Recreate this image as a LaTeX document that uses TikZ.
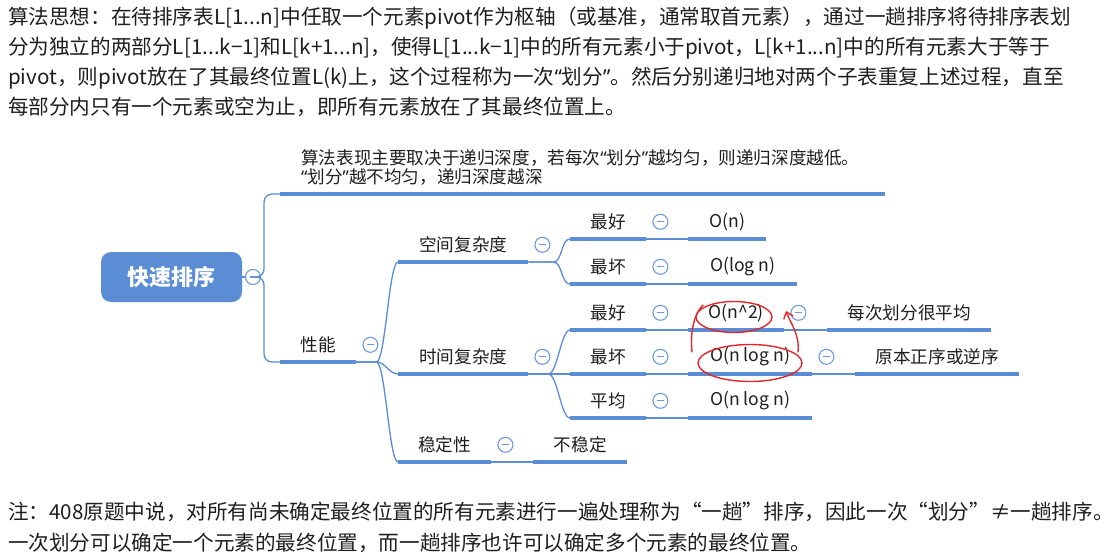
\documentclass[tikz,border=0pt]{standalone}
\usepackage{fontspec}
\setmainfont{Noto Sans CJK SC}
\newfontfamily\quotefont{Noto Sans}
\newcommand\cnquote[1]{{\quotefont “}#1{\quotefont ”}}
\usepackage{tikz}
\usetikzlibrary{arrows.meta}

\definecolor{mapblue}{HTML}{5B8DD5}
\definecolor{foldblue}{HTML}{6E9BDE}
\definecolor{penred}{HTML}{E0282E}
\definecolor{inkgray}{HTML}{1E1E1E}

\tikzset{
  topic/.style={inner sep=0pt, minimum height=34pt, anchor=south west, text=inkgray,
    font=\fontsize{17.6}{20}\selectfont},
  bar/.style={draw=mapblue, line width=4.5pt},
  link/.style={draw=mapblue, line width=1.3pt,
    to path={-- ++(#1,0) .. controls +(9,0) and +(-9,0) .. (\tikztotarget)}},
  link/.default=20,
  fold/.style={circle, draw=foldblue, line width=1.1pt, fill=white, minimum size=15pt, inner sep=0pt,
    path picture={\draw[foldblue, line width=1.3pt]
      ([xshift=-3.5pt]path picture bounding box.center) -- ([xshift=3.5pt]path picture bounding box.center);}},
  pen/.style={draw=penred, line width=1.4pt, line cap=round}
}

\begin{document}
\begin{tikzpicture}[x=1pt, y=-1pt]
  \useasboundingbox (0,0) rectangle (1120,560);

  % text above the map
  \node[anchor=north west, align=left, inner sep=0pt, text=inkgray,
    font=\fontsize{20.6}{29.8}\selectfont] (idea) at (8,7)
    {算法思想：在待排序表L[1...n]中任取一个元素pivot作为枢轴（或基准，通常取首元素），通过一趟排序将待排序表划\\
     分为独立的两部分L[1...k−1]和L[k+1...n]，使得L[1...k−1]中的所有元素小于pivot，L[k+1...n]中的所有元素大于等于\\
     pivot，则pivot放在了其最终位置L(k)上，这个过程称为一次\cnquote{划分}。然后分别递归地对两个子表重复上述过程，直至\\
     每部分内只有一个元素或空为止，即所有元素放在了其最终位置上。};

  % the map
  \node[rounded corners=10pt, fill=mapblue, text=white, minimum width=141pt, minimum height=50pt,
    font=\fontsize{22}{26}\selectfont\bfseries] (qs) at (171.5,277) {快速排序};
  \node[fold] (qs-f) at (253,277) {};

  \node[topic, text width=605pt, align=left, inner ysep=8pt, font=\fontsize{17.6}{19.5}\selectfont]
    (depth) at (280,194)
    {\hspace*{21pt}算法表现主要取决于递归深度，若每次\cnquote{划分}越均匀，则递归深度越低。\\
     \hspace*{21pt}\cnquote{划分}越不均匀，递归深度越深};
  \node[topic, minimum width=76pt] (perf) at (280,362) {性能};

  \node[topic, minimum width=130pt] (space) at (398,262) {空间复杂度};
  \node[topic, minimum width=130pt] (time) at (398,374) {时间复杂度};
  \node[topic, minimum width=93pt] (stab) at (398,462) {稳定性};
  \node[topic, minimum width=94pt] (unstab) at (533,462) {不稳定};

  \node[topic, minimum width=76pt] (sbest) at (570,239) {最好};
  \node[topic, minimum width=76pt] (sworst) at (570,284) {最坏};
  \node[topic, minimum width=78pt] (sbestv) at (688,239) {O(n)};
  \node[topic, minimum width=109pt] (sworstv) at (688,284) {O(log n)};

  \node[topic, minimum width=76pt] (tbest) at (570,330) {最好};
  \node[topic, minimum width=76pt] (tworst) at (570,374) {最坏};
  \node[topic, minimum width=76pt] (tavg) at (570,418) {平均};
  \node[topic, minimum width=96pt] (tbestv) at (688,330) {O(n\textasciicircum2)};
  \node[topic, minimum width=124pt] (tworstv) at (688,374) {O(n log n)};
  \node[topic, minimum width=124pt] (tavgv) at (688,418) {O(n log n)};
  \node[topic, minimum width=164pt] (even) at (827,330) {每次划分很平均};
  \node[topic, minimum width=164pt] (sorted) at (855,374) {原本正序或逆序};

  \foreach \n in {depth,perf,space,time,stab,unstab,sbest,sworst,sbestv,sworstv,
                  tbest,tworst,tavg,tbestv,tworstv,tavgv,even,sorted}
    \draw[bar] (\n.south west) -- (\n.south east);

  % connectors
  \draw[draw=mapblue, line width=1.3pt] (qs.east) -- (qs-f.west);
  \draw[draw=mapblue, line width=1.3pt, rounded corners=8pt] (qs-f.east) -- ++(3,0) |- (depth.south west);
  \draw[draw=mapblue, line width=1.3pt, rounded corners=8pt] (qs-f.east) -- ++(3,0) |- (perf.south west);
  \draw[link] (perf.south east) to (space.south west);
  \draw[link] (perf.south east) to (time.south west);
  \draw[link] (perf.south east) to (stab.south west);
  \draw[link] (stab.south east) to (unstab.south west);
  \draw[link=25] (space.south east) to (sbest.south west);
  \draw[link=25] (space.south east) to (sworst.south west);
  \draw[link] (time.south east) to (tbest.south west);
  \draw[link] (time.south east) to (tworst.south west);
  \draw[link] (time.south east) to (tavg.south west);
  \draw[link] (sbest.south east) to (sbestv.south west);
  \draw[link] (sworst.south east) to (sworstv.south west);
  \draw[link] (tbest.south east) to (tbestv.south west);
  \draw[link] (tworst.south east) to (tworstv.south west);
  \draw[link] (tavg.south east) to (tavgv.south west);
  \draw[link] (tbestv.south east) to (even.south west);
  \draw[link] (tworstv.south east) to (sorted.south west);

  \foreach \n in {perf,space,time,stab,sbest,sworst,tbest,tworst,tavg,tbestv,tworstv}
    \node[fold] (\n-f) at ([xshift=14pt]\n.east) {};

  % red pen marks
  \draw[pen] (734,317) ellipse [x radius=38pt, y radius=15.5pt];
  \draw[pen] (750,363) ellipse [x radius=52pt, y radius=18.5pt];
  \coordinate (mark-a) at (692,352);
  \coordinate (mark-b) at (703,305);
  \coordinate (mark-c) at (798,352);
  \coordinate (mark-d) at (786,311);
  \draw[pen] (mark-a) .. controls (690,332) and (694,314) .. (mark-b);
  \draw[pen, -{Straight Barb[length=6pt, width=10pt]}] (mark-c) .. controls (800,335) and (790,322) .. (mark-d);

  % note below
  \node[anchor=north west, align=left, inner sep=0pt, text=inkgray,
    font=\fontsize{20.6}{31}\selectfont] (remark) at (8,502)
    {注：408原题中说，对所有尚未确定最终位置的所有元素进行一遍处理称为“一趟”排序，因此一次“划分”≠一趟排序。\\
     一次划分可以确定一个元素的最终位置，而一趟排序也许可以确定多个元素的最终位置。};
\end{tikzpicture}
\end{document}
